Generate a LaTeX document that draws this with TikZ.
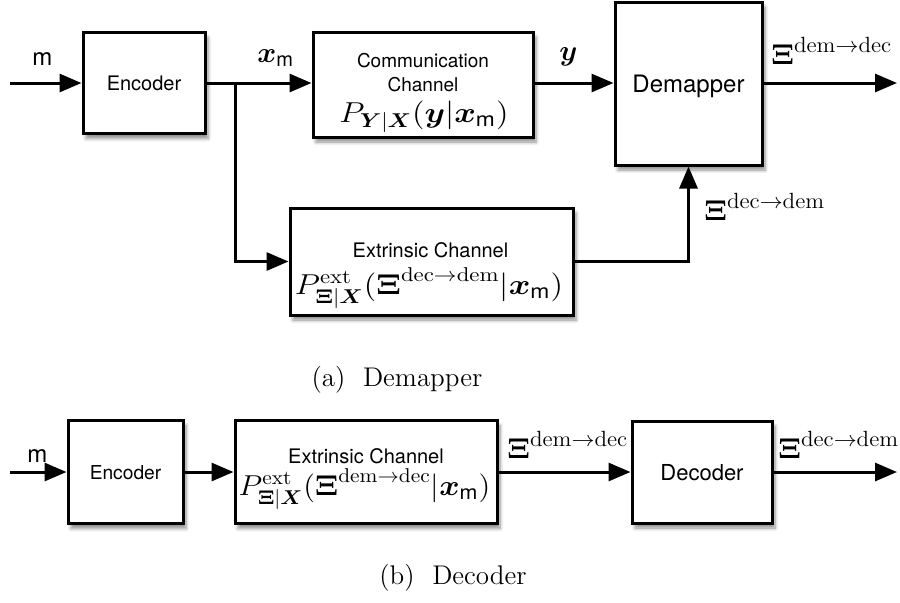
\documentclass[tikz,border=0pt]{standalone}
\usepackage{amsmath,graphicx}
\usepackage{fontspec}
\setsansfont{TeX Gyre Heros}
\usepackage{tikz}
\usetikzlibrary{arrows.meta,positioning,shadows.blur}
\DeclareMathSizes{14}{14}{11}{8}
\DeclareMathSizes{14.5}{14.5}{10}{7}
\newcommand{\xmsg}{\ensuremath{\boldsymbol{x}_{\mathsf{m}}}}
\newcommand{\xidd}{\ensuremath{\boldsymbol{\Xi}^{\mathrm{dem}\to\mathrm{dec}}}}
\newcommand{\xidm}{\ensuremath{\boldsymbol{\Xi}^{\mathrm{dec}\to\mathrm{dem}}}}
\newcommand{\fs}[2]{\fontsize{#1}{#2}\selectfont}
\newcommand{\wide}[2]{\scalebox{#1}[1]{#2}}
\tikzset{
  blkbox/.style={draw=black, line width=1.5pt, fill=white, align=center, inner sep=0pt, font=\sffamily, text depth=0pt,
    blur shadow={shadow xshift=1.5pt, shadow yshift=-2.5pt, shadow blur steps=6, shadow opacity=45}},
  boxtext/.style={inner sep=0pt, anchor=base, font=\sffamily\fs{10}{12}},
  boxmath/.style={inner sep=0pt, anchor=base, font=\fs{14.5}{17}},
  sigarrow/.style={-{Triangle[length=11pt,width=9pt]}, line width=1.5pt},
  siglabel/.style={inner sep=0pt, anchor=base west, font=\fs{14.5}{17}},
  xilabel/.style={inner sep=0pt, anchor=base west, font=\fs{14}{17}},
  msglabel/.style={inner sep=0pt, anchor=base west, font=\sffamily\fs{12}{14}},
  caplabel/.style={inner sep=0pt, font=\fs{13.5}{16}}
}

\begin{document}
\begin{tikzpicture}[x=0.5pt,y=-0.5pt]
  \useasboundingbox (0,0) rectangle (900,602);

  % (a) demapper
  \node[blkbox, minimum width=61pt, minimum height=50.5pt, font=\sffamily\fs{10}{12}] (enc) at (144,83) {Encoder};
  \node[blkbox, minimum width=110pt, minimum height=52.5pt] (chan) at (423,84.5) {};
  \node[boxtext, font=\sffamily\fs{9.5}{11}] (channame) at (423,67) {Communication};
  \node[boxtext, font=\sffamily\fs{9.5}{11}] (channame2) at (423,91) {Channel};
  \node[boxmath] (chanpdf) at (424,122) {\wide{1.14}{$P_{\boldsymbol{Y}|\boldsymbol{X}}(\boldsymbol{y}|\xmsg)$}};
  \node[blkbox, minimum width=73.5pt, minimum height=81.5pt, font=\sffamily\fs{12}{14}] (dem) at (688.5,83.5) {Demapper};
  \node[blkbox, minimum width=141.5pt, minimum height=53.5pt] (ext) at (431.5,261.5) {};
  \node[boxtext] (extname) at (430.5,257) {Extrinsic Channel};
  \node[boxmath] (extpdf) at (429,294) {\wide{1.14}{$P^{\mathrm{ext}}_{\boldsymbol{\Xi}|\boldsymbol{X}}(\xidm|\xmsg)$}};

  \coordinate (ain) at (10,83);
  \coordinate (split) at (235,83);
  \coordinate (aout) at (897,83);

  \node[msglabel] (am) at (32,65) {m};
  \node[siglabel] (axm) at (257,62) {\xmsg};
  \node[siglabel] (ay) at (559,60) {$\boldsymbol{y}$};
  \node[xilabel] (add) at (771,64) {\wide{1.05}{\xidd}};
  \node[xilabel] (adm) at (704,220) {\wide{1.05}{\xidm}};

  \draw[sigarrow] (ain) -- (enc.west |- ain);
  \draw[sigarrow] (enc.east |- ain) -- (chan.west |- ain);
  \draw[sigarrow] (split) |- (ext.west);
  \draw[sigarrow] (chan.east |- ain) -- (dem.west |- ain);
  \draw[sigarrow] (dem.east |- ain) -- (aout);
  \draw[sigarrow] (ext.east) -| (dem.south);

  \node[caplabel] (capa) at (397,380) {(a)~~Demapper};

  % (b) decoder
  \node[blkbox, minimum width=57.5pt, minimum height=51.5pt, font=\sffamily\fs{9.6}{11.5}] (enc2) at (125.5,472) {Encoder};
  \node[blkbox, minimum width=131pt, minimum height=51.5pt] (ext2) at (366,472) {};
  \node[boxtext] (ext2name) at (366,463) {Extrinsic Channel};
  \node[boxmath] (ext2pdf) at (364.5,495) {\wide{1.07}{$P^{\mathrm{ext}}_{\boldsymbol{\Xi}|\boldsymbol{X}}(\xidd|\xmsg)$}};
  \node[blkbox, minimum width=70pt, minimum height=51pt, font=\sffamily\fs{11}{13}] (dec) at (702,472) {Decoder};

  \coordinate (bin) at (10,472);
  \coordinate (bout) at (897,472);

  \node[msglabel] (bm) at (27,462) {m};
  \node[xilabel] (bdd) at (507,458) {\wide{1.05}{\xidd}};
  \node[xilabel] (bdm) at (778,458) {\wide{1.05}{\xidm}};

  \draw[sigarrow] (bin) -- (enc2.west);
  \draw[sigarrow] (enc2.east) -- (ext2.west);
  \draw[sigarrow] (ext2.east) -- (dec.west);
  \draw[sigarrow] (dec.east) -- (bout);

  \node[caplabel] (capb) at (453,578) {(b)~~Decoder};

\end{tikzpicture}
\end{document}
